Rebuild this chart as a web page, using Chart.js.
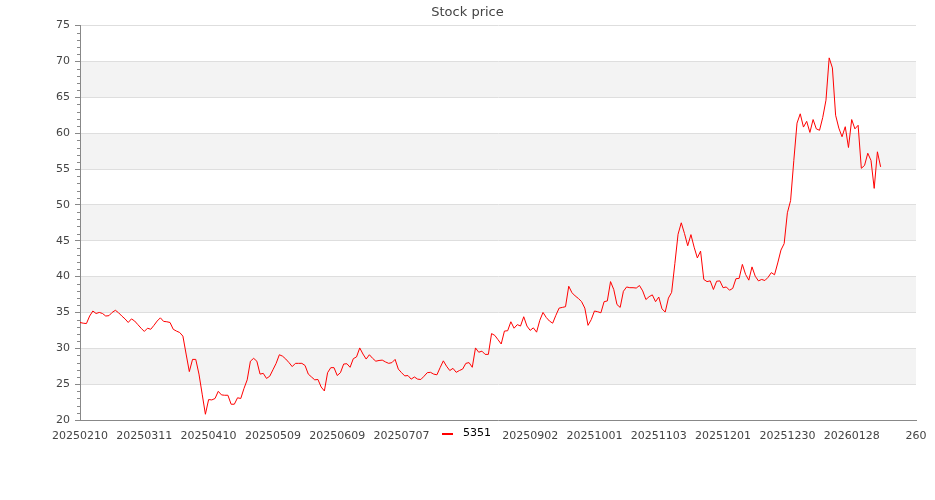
<!DOCTYPE html>
<html>
<head>
<meta charset="utf-8">
<script src="https://cdn.jsdelivr.net/npm/chart.js@4/dist/chart.umd.min.js"></script>
<style>
  html, body { margin: 0; padding: 0; background: #fff; }
  #wrap { width: 935px; height: 500px; position: relative; }
</style>
</head>
<body>
<div id="wrap"><canvas id="c" width="935" height="500"></canvas></div>
<script>
const chartTitle = "Stock price";
const seriesName = "5351";
const tickLabels = ["20250210","20250311","20250410","20250509","20250609","20250707","20250805","20250902","20251001","20251103","20251201","20251230","20260128","260"];
const prices = [
  33.6, 33.5, 33.45, 34.5, 35.2, 34.85, 35.0, 34.85, 34.5, 34.55,
  35.0, 35.3, 34.95, 34.5, 34.1, 33.6, 34.1, 33.8, 33.3, 32.8,
  32.35, 32.8, 32.65, 33.2, 33.8, 34.25, 33.75, 33.7, 33.6, 32.65,
  32.4, 32.2, 31.7, 29.2, 26.75, 28.45, 28.45, 26.4, 23.6, 20.8,
  22.85, 22.8, 23.0, 24.0, 23.5, 23.45, 23.45, 22.2, 22.2, 23.1,
  23.0, 24.4, 25.6, 28.2, 28.6, 28.2, 26.4, 26.5, 25.8, 26.1,
  27.0, 27.9, 29.1, 28.9, 28.5, 28.0, 27.45, 27.9, 27.9, 27.9,
  27.6, 26.4, 26.0, 25.6, 25.65, 24.6, 24.05, 26.6, 27.3, 27.3,
  26.2, 26.6, 27.8, 27.85, 27.35, 28.55, 28.8, 30.05, 29.2, 28.5,
  29.1, 28.6, 28.2, 28.3, 28.35, 28.1, 27.9, 28.0, 28.45, 27.1,
  26.6, 26.15, 26.2, 25.7, 26.0, 25.7, 25.65, 26.1, 26.6, 26.65,
  26.4, 26.3, 27.3, 28.25, 27.5, 26.9, 27.2, 26.65, 26.9, 27.1,
  27.9, 28.0, 27.35, 30.05, 29.45, 29.6, 29.15, 29.15, 32.05, 31.8,
  31.2, 30.6, 32.4, 32.45, 33.7, 32.8, 33.3, 33.1, 34.4, 33.1,
  32.5, 32.85, 32.25, 33.9, 35.0, 34.3, 33.8, 33.5, 34.6, 35.6,
  35.7, 35.8, 38.65, 37.75, 37.3, 36.95, 36.5, 35.6, 33.2, 34.0,
  35.2, 35.1, 34.95, 36.5, 36.6, 39.3, 38.2, 36.1, 35.7, 37.95,
  38.55, 38.45, 38.45, 38.4, 38.75, 38.0, 36.8, 37.2, 37.45, 36.5,
  37.15, 35.5, 35.05, 37.0, 37.8, 41.8, 45.9, 47.5, 46.0, 44.3,
  45.85, 44.1, 42.6, 43.55, 39.6, 39.3, 39.4, 38.2, 39.35, 39.4,
  38.45, 38.55, 38.1, 38.35, 39.7, 39.75, 41.7, 40.3, 39.5, 41.35,
  40.05, 39.4, 39.6, 39.45, 39.9, 40.55, 40.25, 41.9, 43.7, 44.6,
  48.9, 50.6, 56.2, 61.4, 62.7, 60.85, 61.65, 60.1, 61.9, 60.6,
  60.4, 62.2, 64.6, 70.5, 69.1, 62.5, 60.7, 59.5, 60.9, 58.0,
  61.9, 60.6, 61.1, 55.1, 55.5, 57.2, 56.2, 52.3, 57.4, 55.3
];
const yMin = 20, yMax = 75, yStep = 5;
const xMax = 260, xStep = 20;

const FONT = "'DejaVu Sans', Verdana, sans-serif";

const bandsPlugin = {
  id: 'bands',
  beforeDraw(chart) {
    const {ctx, chartArea, scales: {y}} = chart;
    ctx.save();
    ctx.fillStyle = '#f3f3f3';
    for (let v = yMin + yStep; v < yMax; v += 2 * yStep) {
      const top = y.getPixelForValue(v + yStep);
      const bot = y.getPixelForValue(v);
      ctx.fillRect(chartArea.left, top, chartArea.right - chartArea.left, bot - top);
    }
    ctx.restore();
  },
  afterDraw(chart) {
    const {ctx, chartArea, scales: {y}} = chart;
    ctx.save();
    // minor ticks
    ctx.strokeStyle = '#888';
    ctx.lineWidth = 1;
    ctx.beginPath();
    for (let v = yMin; v <= yMax; v += 1) {
      if (v % yStep === 0) continue;
      const py = Math.round(y.getPixelForValue(v)) + 0.5;
      ctx.moveTo(chartArea.left - 3, py);
      ctx.lineTo(chartArea.left, py);
    }
    ctx.stroke();
    // legend
    const lx = 437, ly = 434;
    ctx.fillStyle = '#fff';
    ctx.fillRect(lx, ly - 9, 60, 18);
    ctx.strokeStyle = 'red';
    ctx.lineWidth = 2;
    ctx.beginPath();
    ctx.moveTo(lx + 5, ly);
    ctx.lineTo(lx + 16, ly);
    ctx.stroke();
    ctx.fillStyle = '#000';
    ctx.font = '11px ' + FONT;
    ctx.textBaseline = 'middle';
    ctx.textAlign = 'left';
    ctx.fillText(seriesName, lx + 26, ly - 1);
    ctx.restore();
  }
};

new Chart(document.getElementById('c'), {
  type: 'line',
  data: {
    datasets: [{
      label: seriesName,
      data: prices.map((v, i) => ({x: i, y: v})),
      borderColor: 'red',
      backgroundColor: 'red',
      borderWidth: 1,
      pointRadius: 0,
      tension: 0,
      fill: false
    }]
  },
  options: {
    responsive: false,
    animation: false,
    devicePixelRatio: 1,
    layout: { padding: 0 },
    plugins: {
      legend: { display: false },
      tooltip: { enabled: false },
      title: {
        display: true,
        text: chartTitle,
        color: '#444',
        font: { family: FONT, size: 13, weight: 'normal', lineHeight: 1.2 },
        padding: { top: 5, bottom: 5 }
      }
    },
    scales: {
      x: {
        type: 'linear',
        min: 0,
        max: xMax,
        afterFit(scale) { scale.height = 80; },
        grid: { display: false },
        border: { display: true, color: '#888', width: 1 },
        ticks: {
          stepSize: xStep,
          autoSkip: false,
          maxRotation: 0,
          padding: 2,
          color: '#444',
          font: { family: FONT, size: 11 },
          callback: (val) => tickLabels[Math.round(val / xStep)] ?? ''
        }
      },
      y: {
        min: yMin,
        max: yMax,
        afterFit(scale) { scale.width = 80; },
        grid: { color: '#dedede', lineWidth: 1, tickColor: '#888', tickLength: 5 },
        border: { display: true, color: '#888', width: 1 },
        ticks: {
          stepSize: yStep,
          padding: 5,
          color: '#444',
          font: { family: FONT, size: 11 }
        }
      },
      yRight: {
        position: 'right',
        min: yMin,
        max: yMax,
        afterFit(scale) { scale.width = 19; },
        grid: { display: false, drawOnChartArea: false },
        border: { display: false },
        ticks: { display: false }
      }
    }
  },
  plugins: [bandsPlugin]
});
</script>
</body>
</html>
